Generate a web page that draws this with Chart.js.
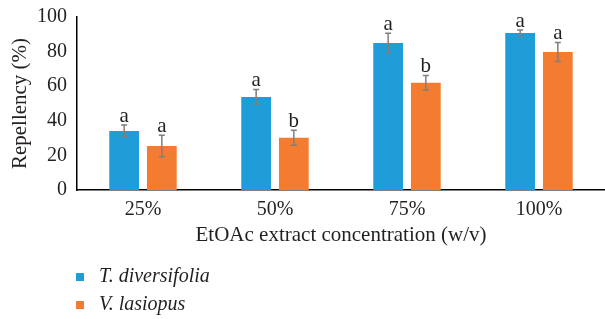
<!DOCTYPE html>
<html>
<head>
<meta charset="utf-8">
<script src="https://cdn.jsdelivr.net/npm/chart.js@4/dist/chart.umd.min.js"></script>
<style>
    html, body { margin: 0; padding: 0; background: #fff; }
    #wrap { width: 605px; height: 319px; }
</style>
</head>
<body>
<div id="wrap"><canvas id="chart" width="605" height="319"></canvas></div>
<script>
const categories = ['25%', '50%', '75%', '100%'];
const seriesNames = ['T. diversifolia', 'V. lasiopus'];
const seriesColors = ['#1f9dd8', '#f47c30'];
const tdValues = [34.1, 53.8, 85.0, 90.8];
const tdErrors = [3.5, 4.3, 5.6, 1.7];
const tdLetters = ['a', 'a', 'a', 'a'];
const vlValues = [25.4, 30.2, 62.0, 79.8];
const vlErrors = [6.2, 4.3, 4.2, 5.5];
const vlLetters = ['a', 'b', 'b', 'a'];
const yTicks = [0, 20, 40, 60, 80, 100];
const xTitle = 'EtOAc extract concentration (w/v)';
const yTitle = 'Repellency (%)';

const serif = 'Liberation Serif';
const textColor = '#231f20';

document.addEventListener('DOMContentLoaded', function () {
    const errors = [tdErrors, vlErrors];
    const letters = [tdLetters, vlLetters];

    const extrasPlugin = {
        id: 'extras',
        afterDatasetsDraw: function (chart) {
            const ctx = chart.ctx;
            const yScale = chart.scales.y;
            ctx.save();
            chart.data.datasets.forEach(function (ds, d) {
                const meta = chart.getDatasetMeta(d);
                meta.data.forEach(function (bar, i) {
                    const v = ds.data[i];
                    const e = errors[d][i];
                    const yTop = yScale.getPixelForValue(v + e);
                    const yBot = yScale.getPixelForValue(v - e);
                    ctx.strokeStyle = '#7f7f7f';
                    ctx.lineWidth = 1.5;
                    ctx.beginPath();
                    ctx.moveTo(bar.x, yTop);
                    ctx.lineTo(bar.x, yBot);
                    ctx.moveTo(bar.x - 3, yTop);
                    ctx.lineTo(bar.x + 3, yTop);
                    ctx.moveTo(bar.x - 3, yBot);
                    ctx.lineTo(bar.x + 3, yBot);
                    ctx.stroke();

                    ctx.fillStyle = textColor;
                    ctx.font = '21px "' + serif + '"';
                    ctx.textAlign = 'center';
                    ctx.textBaseline = 'alphabetic';
                    ctx.fillText(letters[d][i], bar.x, yTop - 3);
                });
            });
            ctx.restore();
        },
        afterDraw: function (chart) {
            const ctx = chart.ctx;
            const area = chart.chartArea;
            ctx.save();
            ctx.textBaseline = 'middle';
            ctx.fillStyle = textColor;
            ctx.font = '21px "' + serif + '"';
            ctx.textAlign = 'center';
            ctx.fillText(xTitle, (area.left + area.right) / 2, 235);

            seriesNames.forEach(function (name, d) {
                const cy = 277 + d * 28;
                ctx.fillStyle = seriesColors[d];
                ctx.fillRect(76, cy - 4, 8, 8);
                ctx.fillStyle = textColor;
                ctx.font = 'italic 20px "' + serif + '"';
                ctx.textAlign = 'left';
                ctx.fillText(name, 99, cy);
            });
            ctx.restore();
        }
    };

    new Chart(document.getElementById('chart').getContext('2d'), {
        type: 'bar',
        data: {
            labels: categories,
            datasets: [
                {
                    label: seriesNames[0],
                    data: tdValues,
                    backgroundColor: seriesColors[0],
                    categoryPercentage: 0.571,
                    barPercentage: 0.79
                },
                {
                    label: seriesNames[1],
                    data: vlValues,
                    backgroundColor: seriesColors[1],
                    categoryPercentage: 0.571,
                    barPercentage: 0.79
                }
            ]
        },
        options: {
            responsive: false,
            animation: false,
            devicePixelRatio: 1,
            layout: { padding: { top: 17, left: 0, right: 0, bottom: 0 } },
            plugins: {
                legend: { display: false },
                tooltip: { enabled: false }
            },
            scales: {
                x: {
                    grid: { display: false },
                    border: { display: true, color: '#000', width: 1.5 },
                    afterFit: function (scale) { scale.height = 129; },
                    ticks: {
                        maxRotation: 0,
                        padding: 0,
                        color: textColor,
                        font: { family: serif, size: 20 }
                    }
                },
                y: {
                    min: 0,
                    max: 100,
                    grid: { display: false },
                    border: { display: true, color: '#000', width: 1.5 },
                    afterBuildTicks: function (scale) {
                        scale.ticks = yTicks.map(function (v) { return { value: v }; });
                    },
                    afterFit: function (scale) { scale.width = 77; },
                    ticks: {
                        padding: 2,
                        color: textColor,
                        font: { family: serif, size: 20 }
                    },
                    title: {
                        display: true,
                        text: yTitle,
                        color: textColor,
                        font: { family: serif, size: 21 },
                        padding: { top: 8, bottom: 0 }
                    }
                }
            }
        },
        plugins: [extrasPlugin]
    });
});
</script>
</body>
</html>
